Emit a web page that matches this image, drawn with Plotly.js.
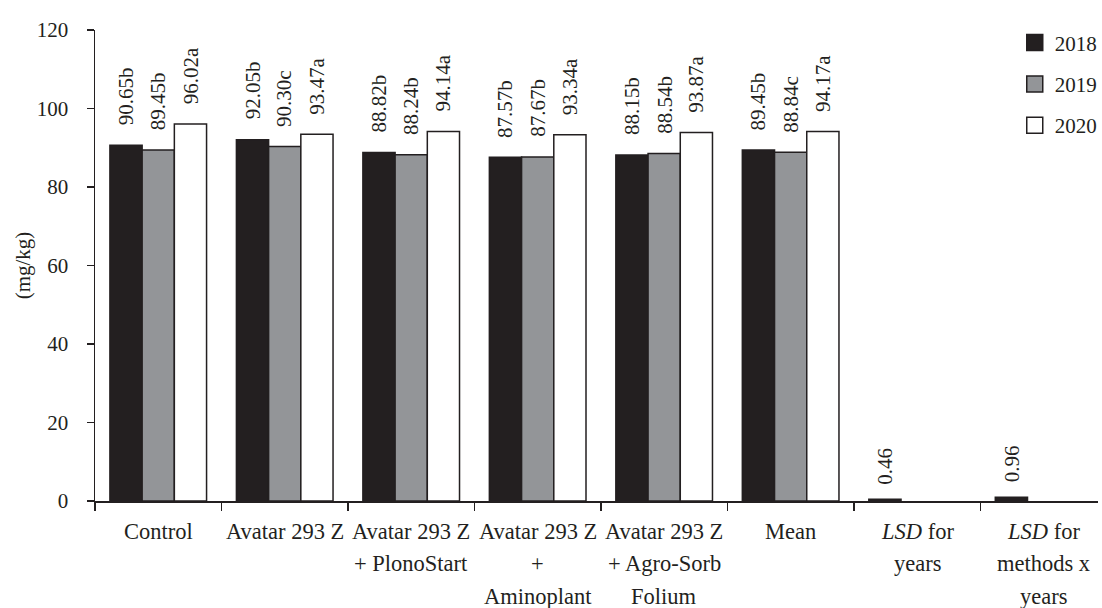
<!DOCTYPE html>
<html>
<head>
<meta charset="utf-8">
<script src="https://cdn.plot.ly/plotly-3.0.1.min.js"></script>
<style>html,body{margin:0;padding:0;background:#fff;}#chart{width:1102px;height:608px;}</style>
</head>
<body>
<div id="chart"></div>
<script>
// ---- data ----
var categories = ["Control", "Avatar 293 Z", "Avatar 293 Z + PlonoStart", "Avatar 293 Z + Aminoplant",
                  "Avatar 293 Z + Agro-Sorb Folium", "Mean", "LSD for years", "LSD for methods x years"];
var categoryLines = [
  ["Control"],
  ["Avatar 293 Z"],
  ["Avatar 293 Z", "+ PlonoStart"],
  ["Avatar 293 Z", "+", "Aminoplant"],
  ["Avatar 293 Z", "+ Agro-Sorb", "Folium"],
  ["Mean"],
  ["<i>LSD</i> for", "years"],
  ["<i>LSD</i> for", "methods x", "years"]
];
var years = ["2018", "2019", "2020"];
var values2018 = [90.65, 92.05, 88.82, 87.57, 88.15, 89.45, 0.46, 0.96];
var values2019 = [89.45, 90.30, 88.24, 87.67, 88.54, 88.84, null, null];
var values2020 = [96.02, 93.47, 94.14, 93.34, 93.87, 94.17, null, null];
var letters2018 = ["b", "b", "b", "b", "b", "b", "", ""];
var letters2019 = ["b", "c", "b", "b", "b", "c", "", ""];
var letters2020 = ["a", "a", "a", "a", "a", "a", "", ""];
var yTitle = "(mg/kg)";

// ---- style ----
var FONT = '"Liberation Serif", "Times New Roman", serif';
var INK = "#231f20";
var fills = ["#231f20", "#939598", "#ffffff"];
var series = [values2018, values2019, values2020];
var letters = [letters2018, letters2019, letters2020];
var BARGAP = 0.236;
var slot = (1 - BARGAP) / 3;
var LABEL_SIZE = 21;

var measureCtx = document.createElement("canvas").getContext("2d");
measureCtx.font = LABEL_SIZE + 'px "Liberation Serif"';
function textWidth(s) { return measureCtx.measureText(s).width; }

var traces = series.map(function (vals, k) {
  return {
    type: "bar",
    name: years[k],
    showlegend: false,
    x: categories,
    y: vals,
    marker: {color: fills[k], line: {color: INK, width: 1.5}},
    hoverinfo: "skip"
  };
});
// legend-only entries with larger square keys
years.forEach(function (yr, k) {
  traces.push({
    type: "scatter",
    mode: "markers",
    name: yr,
    legendgroup: yr,
    x: [null], y: [null],
    marker: {symbol: "square", size: 16, color: fills[k], line: {color: INK, width: 1.5}},
    hoverinfo: "skip"
  });
});

var annotations = [];
series.forEach(function (vals, k) {
  vals.forEach(function (v, i) {
    if (v === null) return;
    var txt = v.toFixed(2) + letters[k][i];
    var gap = letters[k][i] ? 19 : 14;
    annotations.push({
      xref: "x", yref: "y",
      x: i + (k - 1) * slot, y: v,
      text: txt,
      textangle: -90,
      showarrow: false,
      xanchor: "center", yanchor: "middle",
      yshift: gap + textWidth(txt) / 2 + 1,
      font: {family: FONT, size: LABEL_SIZE, color: INK}
    });
  });
});
categoryLines.forEach(function (lines, i) {
  lines.forEach(function (line, j) {
    annotations.push({
      xref: "x", yref: "paper",
      x: i, y: 0,
      text: line,
      showarrow: false,
      xanchor: "center", yanchor: "middle",
      yshift: -30 - j * 32.5,
      font: {family: FONT, size: 22.5, color: INK}
    });
  });
});

var layout = {
  width: 1102, height: 608,
  margin: {l: 95, r: 0, t: 30, b: 107, pad: 0},
  paper_bgcolor: "#ffffff", plot_bgcolor: "#ffffff",
  font: {family: FONT, size: 21, color: INK},
  barmode: "group",
  bargap: BARGAP,
  bargroupgap: 0,
  showlegend: true,
  legend: {
    x: 0.917, xanchor: "left", y: 1.016, yanchor: "top",
    font: {family: FONT, size: 21, color: INK},
    tracegroupgap: 11,
    bgcolor: "rgba(0,0,0,0)",
    itemwidth: 30
  },
  xaxis: {
    type: "category",
    range: [-0.5, 7.43],
    showticklabels: false,
    tickson: "boundaries",
    ticks: "outside", ticklen: 8, tickwidth: 1.5, tickcolor: INK,
    showline: true, linecolor: INK, linewidth: 1.5,
    showgrid: false, zeroline: false, fixedrange: true
  },
  yaxis: {
    range: [0, 120],
    tickvals: [0, 20, 40, 60, 80, 100, 120],
    ticks: "outside", ticklen: 7, tickwidth: 1.5, tickcolor: INK,
    ticklabelstandoff: 14,
    showline: true, linecolor: INK, linewidth: 1.5,
    showgrid: false, zeroline: false,
    tickfont: {family: FONT, size: 21, color: INK},
    title: {text: yTitle, standoff: 0, font: {family: FONT, size: 21, color: INK}},
    fixedrange: true
  },
  annotations: annotations
};

Plotly.newPlot("chart", traces, layout, {displayModeBar: false, staticPlot: true});
</script>
</body>
</html>
